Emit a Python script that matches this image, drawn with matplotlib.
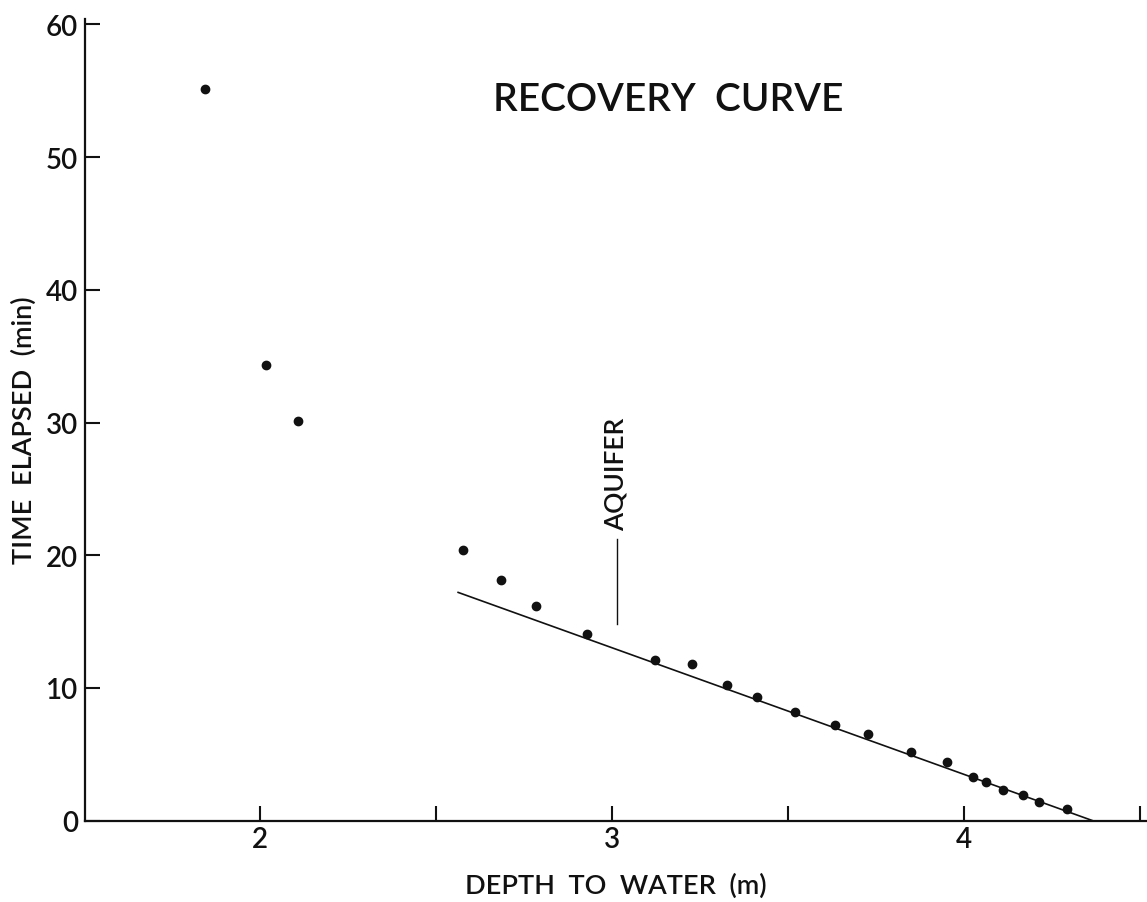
import matplotlib
matplotlib.use("Agg")
import matplotlib.pyplot as plt

plt.rcParams['font.family'] = ['Lato', 'DejaVu Sans']

# Observed recovery data
depth_m = [1.844, 2.017, 2.107, 2.578, 2.684, 2.784, 2.928, 3.123, 3.228, 3.326,
           3.411, 3.520, 3.634, 3.728, 3.849, 3.953, 4.027, 4.062, 4.110, 4.167,
           4.213, 4.292]
time_min = [55.1, 34.3, 30.1, 20.4, 18.1, 16.2, 14.1, 12.1, 11.8, 10.2,
            9.3, 8.2, 7.2, 6.5, 5.2, 4.4, 3.3, 2.9, 2.3, 1.9,
            1.4, 0.9]

# Fitted straight line (aquifer response)
fit_depth = [2.563, 4.366]
fit_time = [17.2, 0.0]

# Aquifer marker line
aq_depth = [3.013, 3.013]
aq_time = [21.2, 14.8]

x_major = [2, 3, 4]
x_minor = [2.5, 3.5, 4.5]
y_ticks = [0, 10, 20, 30, 40, 50, 60]

W, H = 1147, 903
fig = plt.figure(figsize=(W / 100, H / 100), dpi=100)
ax = fig.add_axes([85 / W, (H - 821.7) / H, (W - 85) / W, 801.7 / H])

ink = '#111111'
wt = 'semibold'
ax.plot(depth_m, time_min, 'o', color=ink, markersize=6, zorder=3)
ax.plot(fit_depth, fit_time, '-', color=ink, linewidth=1.2)
ax.plot(aq_depth, aq_time, '-', color=ink, linewidth=1.0)

ax.set_xlim(1.503, 4.52)
ax.set_ylim(0, 60.4)

for s in ['top', 'right']:
    ax.spines[s].set_visible(False)
for s in ['left', 'bottom']:
    ax.spines[s].set_linewidth(1.6)
    ax.spines[s].set_color(ink)

ax.set_xticks(x_major)
ax.set_xticks(x_minor, minor=True)
ax.set_xticklabels([str(v) for v in x_major], fontweight=wt)
ax.set_yticks(y_ticks)
ax.set_yticklabels([str(v) for v in y_ticks], fontweight=wt)
ax.tick_params(axis='both', which='both', direction='in', color=ink,
               width=1.5, length=11, labelsize=20, labelcolor=ink)
ax.tick_params(axis='x', which='both', pad=4)
ax.tick_params(axis='y', which='both', pad=5)

ax.set_xlabel('DEPTH  TO  WATER  (m)', fontsize=19.5, color=ink, fontweight=wt)
ax.xaxis.set_label_coords(0.5, -0.080)
ax.xaxis.label.set_va('center')
ax.set_ylabel('TIME  ELAPSED  (min)', fontsize=19.5, color=ink, fontweight=wt)
ax.yaxis.set_label_coords(-0.0574, 0.4886)
ax.yaxis.label.set_va('center')

ax.text(0.549, 0.900, 'RECOVERY  CURVE', transform=ax.transAxes,
        ha='center', va='center', fontsize=28, color=ink, fontweight=wt)
ax.text(3.013, 26.2, 'AQUIFER', rotation=90, ha='center', va='center',
        fontsize=19, color=ink, fontweight=wt)

fig.savefig('out.png', dpi=100, facecolor='white')
